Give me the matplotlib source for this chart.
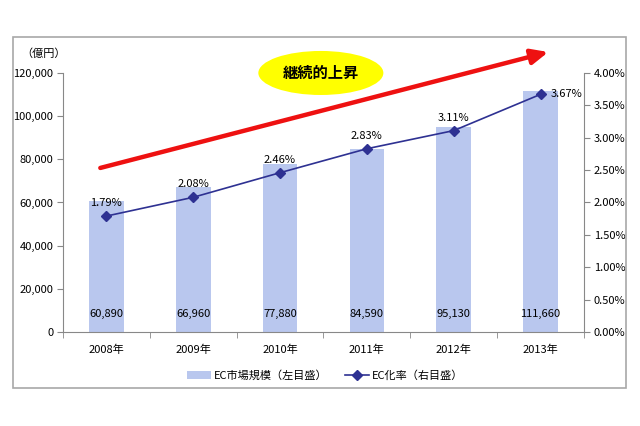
import matplotlib
matplotlib.use("Agg")
from matplotlib import pyplot as plt
from matplotlib.patches import Ellipse, Rectangle

plt.rcParams['font.family'] = ['Noto Sans CJK JP', 'DejaVu Sans']

years = ["2008年", "2009年", "2010年", "2011年", "2012年", "2013年"]
market = [60890, 66960, 77880, 84590, 95130, 111660]
rate = [1.79, 2.08, 2.46, 2.83, 3.11, 3.67]
left_ticks = [0, 20000, 40000, 60000, 80000, 100000, 120000]
right_ticks = [0, 0.5, 1.0, 1.5, 2.0, 2.5, 3.0, 3.5, 4.0]

bar_color = "#B9C7EE"
line_color = "#2E3192"
axis_color = "#888888"

fig = plt.figure(figsize=(6.4, 4.26), dpi=100)
fig.patches.append(Rectangle((0.0203, 0.089), 0.958, 0.824, transform=fig.transFigure,
                             fill=False, edgecolor="#A8A8A8", linewidth=1.2))

ax = fig.add_axes([0.0984, 0.2207, 0.814, 0.608])
x = range(len(years))
bars = ax.bar(x, market, width=0.4, color=bar_color, label="EC市場規模（左目盛）", zorder=1)
ax.set_xlim(-0.5, 5.5)
ax.set_ylim(0, 120000)
ax.set_yticks(left_ticks)
ax.set_yticklabels([f"{v:,}" for v in left_ticks], fontsize=8)
ax.set_xticks(list(x))
ax.set_xticklabels(years, fontsize=8)
ax.tick_params(axis='x', length=0, pad=9)
ax.set_xticks([i + 0.5 for i in range(-1, 6)], minor=True)
ax.tick_params(axis='x', which='minor', length=4, color=axis_color)
ax.tick_params(axis='y', length=4, color=axis_color, pad=3)
for s in ["top", "right"]:
    ax.spines[s].set_visible(False)
for s in ["left", "bottom"]:
    ax.spines[s].set_color(axis_color)

for i, v in enumerate(market):
    ax.text(i, 8500, f"{v:,}", ha="center", va="center", fontsize=8)

ax.text(0.005, 1.075, "（億円）", transform=ax.transAxes, ha="right", va="center", fontsize=8)

ax2 = ax.twinx()
line, = ax2.plot(x, rate, color=line_color, marker="D", markersize=5, linewidth=1.2,
                 label="EC化率（右目盛）", zorder=3)
ax2.set_ylim(0, 4.0)
ax2.set_yticks(right_ticks)
ax2.set_yticklabels([f"{v:.2f}%" for v in right_ticks], fontsize=8)
ax2.tick_params(axis='y', length=4, color=axis_color, pad=3)
for s in ["top", "left", "bottom"]:
    ax2.spines[s].set_visible(False)
ax2.spines["right"].set_color(axis_color)

for i, r in enumerate(rate):
    if i == len(rate) - 1:
        ax2.text(i + 0.12, r, f"{r:.2f}%", ha="left", va="center", fontsize=8)
    else:
        ax2.text(i, r + 0.2, f"{r:.2f}%", ha="center", va="center", fontsize=8)

# red trend arrow and yellow bubble
ax.annotate("", xy=(5.09, 129700), xytext=(-0.07, 76000),
            arrowprops=dict(arrowstyle="-|>,head_length=1.0,head_width=0.45",
                            color="#EE1111", lw=3.2, shrinkA=0, shrinkB=0),
            annotation_clip=False, zorder=5)
ax.add_patch(Ellipse((2.47, 120000), 1.44, 20400, facecolor="#FFFF00", edgecolor="none",
                     clip_on=False, zorder=4))
ax.text(2.47, 120000, "継続的上昇", ha="center", va="center", fontsize=11,
        fontweight="bold", zorder=6)

fig.legend(handles=[bars, line], loc="center", bbox_to_anchor=(0.508, 0.118), ncol=2,
           frameon=False, fontsize=8, columnspacing=1.5, handlelength=2.2, handletextpad=0.3)

fig.savefig("out.png", dpi=100)
